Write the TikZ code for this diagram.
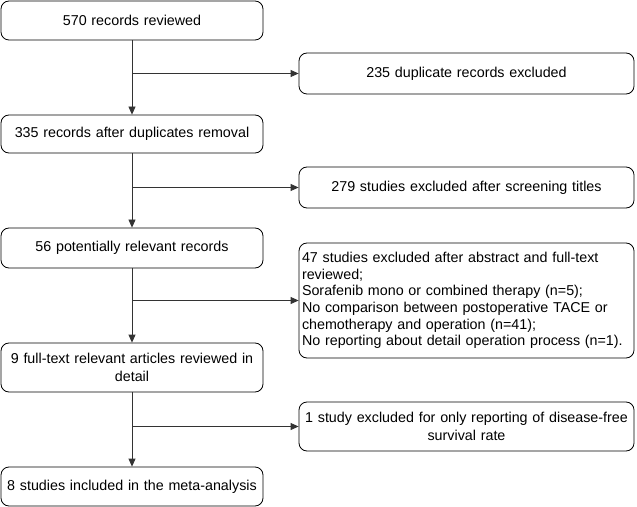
\documentclass[tikz,border=0pt]{standalone}
\usepackage{fontspec}
\setmainfont{Liberation Sans}
\usetikzlibrary{arrows.meta}
\begin{document}
\begin{tikzpicture}[x=1bp,y=-1bp,
  box/.style={draw=black, line width=0.8bp, rounded corners=8bp, inner sep=3bp,
    font=\fontsize{14.3bp}{17.7bp}\selectfont, align=center},
  lbox/.style={box, minimum width=262bp, text width=256bp},
  rbox/.style={box, minimum width=335bp, text width=329bp},
  flow/.style={draw=black!80, line width=0.8bp, -{Triangle[length=8bp,width=7bp]}},
  branch/.style={draw=black!80, line width=0.8bp}]
\useasboundingbox (0,0) rectangle (637,507);
\node[lbox, minimum height=39bp] (b1) at (132,20.5) {570 records reviewed};
\node[lbox, minimum height=38bp] (b2) at (132,134) {335 records after duplicates removal};
\node[lbox, minimum height=40bp] (b3) at (132,248) {56 potentially relevant records};
\node[lbox, minimum height=49bp] (b4) at (132,367.5) {9 full-text relevant articles reviewed in\\detail};
\node[lbox, minimum height=39bp] (b5) at (132,486.5) {8 studies included in the meta-analysis};
\node[rbox, minimum height=41bp] (e1) at (466.5,73.5) {235 duplicate records excluded};
\node[rbox, minimum height=41bp] (e2) at (466.5,187.5) {279 studies excluded after screening titles};
\node[rbox, minimum height=115bp, align=left, font=\fontsize{14.3bp}{16.7bp}\selectfont] (e3) at (466.5,300.5) {47 studies excluded after abstract and full-text\\reviewed;\\Sorafenib mono or combined therapy (n=5);\\No comparison between postoperative TACE or\\chemotherapy and operation (n=41);\\No reporting about detail operation process (n=1).};
\node[rbox, minimum height=49bp] (e4) at (466.5,426.5) {1 study excluded for only reporting of disease-free\\survival rate};
\draw[flow] (b1.south) -- (b2.north);
\draw[flow] (b2.south) -- (b3.north);
\draw[flow] (b3.south) -- (b4.north);
\draw[flow] (b4.south) -- (b5.north);
\draw[flow] (b1.south |- e1.west) -- (e1.west);
\draw[flow] (b2.south |- e2.west) -- (e2.west);
\draw[flow] (b3.south |- e3.west) -- (e3.west);
\draw[flow] (b4.south |- e4.west) -- (e4.west);
\end{tikzpicture}
\end{document}
